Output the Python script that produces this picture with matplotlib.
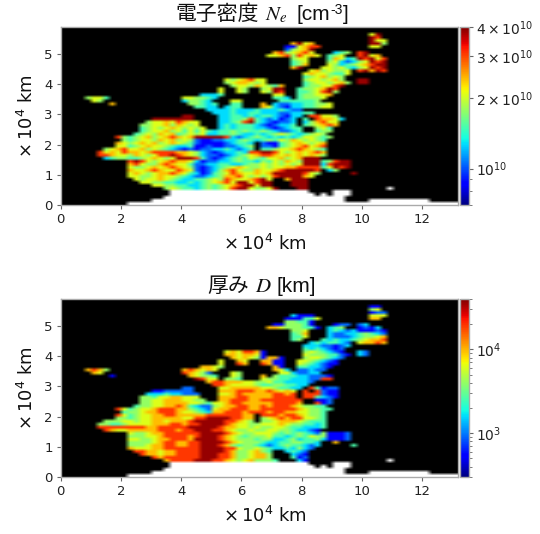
import numpy as np
import matplotlib
matplotlib.use("Agg")
import matplotlib.pyplot as plt
from matplotlib.colors import LogNorm
from matplotlib.ticker import NullFormatter

# Rows run top to bottom, 0.1 x 10^4 km each; columns 0.2 x 10^4 km each.
# "col:codes" - digit = colour level, "_" = no-data white.
NE_ROWS = [
 "", "",
 "51:69", "51:98", "51:966", "38:7967 51:995", "37:116788 51:66", "37:25679",
 "35:7856786 45:345 49:89", "34:667858676 44:456 49:8967", "38:566 44:47634 49:98968",
 "38:456 44:5632356989", "38:457 44:6534567899", "38:79 43:66564356989", "41:6756556 49:89798",
 "40:67665446", "40:4567565", "27:6567866 40:5665675 49:99", "27:5677656 40:45665675 49:99",
 "28:566576 34:547 40:4556689", "26:6 29:65 33:5 34:699 39:4556798", "26:6 29:65 33:65 35:98 39:4456895",
 "23:3334 35:66 39:455667", "4:5664 20:665543 35:443 39:45556",
 "5:65 20:35543 28:66 36:444 39:4445", "8:7 21:55434 28:44 33:7 35:3223344556",
 "22:4433 27:344 33:76 35:3213344566", "24:3333433343334322", "25:33343344333223344",
 "20:99 26:33443434432133 41:88665", "15:9999999 26:3344584323123 40:4 42:87763",
 "14:566768766 26:3345894321223 40:35 42:7866", "13:5566757656 26:3434443212334 40:456787",
 "13:45656765656 26:34344433212344 42:564", "13:456675646464 25:344545445432234 42:455",
 "12:" "456576745656" "33445433434565434565",
 "9:8 10:5 11:" "45675678767" "99999" "832345434343466545",
 "10:" "545665767565" "211223" "3454345465765654",
 "9:" "7656767567654" "211112" "3443" " 33:" "21145676567",
 "9:" "6645676654334" "112112" "2345" " 33:" "22145678678",
 "7:" "567866756543212" "122334" "3234" " 33:" "44566787654",
 "6:" "867687767" "88887765" "32123343" "88998" "65676787",
 "6:" "887665765" "68898765" "32212345" "67887" "67676765",
 "7:" "34554456" "76569998" "42123454" "65466" "7567" "999",
 "11:" "89865678776" "312233454" "435465765" "999" " 43:45899",
 "11:" "78655787664" "223344334" "556565656" "99938999",
 "11:" "65567678765" "212345676" "556566778" "88846989",
 "11:" "76678766876" "212357865" "576678999" "998" " 44:35",
 "11:" "67656778764" "312456876" "676799999" "865" " 48:9",
 "11:" "66556766543" "223457786" "565689999" "76",
 "12:" "65667654334" "456587667896" " 37:7999",
 "13:" "6655443343" "456786996899" " 38:999",
 "15:" "66554433" "454567899699" " 38:999",
 "17:" "565443" "45456899655" " 34:69 39:99 54:_",
 "18:_______________________ 45:___",
 "18:________________________ 43:_ 45:___",
 "17:______________________________",
 "15:________________________________ 51:__________",
 "11:_______________________________________________________",
]

D_ROWS = [
 "", "",
 "51:11", "51:56", "51:122", "38:3111 51:666", "37:111446 51:77", "37:55441",
 "35:1155541 45:122 49:23", "34:776555441 44:345 49:1213", "38:556 44:34323 49:11121",
 "38:457 44:3223345432", "38:446 44:3222345567", "38:45 43:43433456778", "41:3434432 49:67787",
 "40:33322123", "40:4343212", "27:6768871 40:5654321 49:32", "27:7767761 40:65554421 49:32",
 "28:767651 34:771 40:5665432", "26:6 29:76 33:7 34:711 39:6654321", "26:6 29:87 33:87 35:11 39:6543211",
 "23:7765 35:71 39:443321", "4:7875 20:787676 35:763 39:22322",
 "5:76 20:87652 28:65 36:663 39:2233", "8:1 21:76554 28:65 33:7 35:5444332221",
 "22:9866 27:554 33:65 35:5443332288", "24:788777665564433332", "25:8876666544554433",
 "20:22 26:66777776654433 41:84122", "15:1122222 26:7778887787676 40:8 42:8211",
 "14:333433222 26:6678777778878 40:88 42:8211", "13:5546677666 26:7778877778888 40:884321",
 "13:55667776655 26:77888778888888 42:112", "13:556677776654 25:667887777788887 42:812",
 "12:" "455667787" "4322" "5677887787888765544",
 "9:8 10:6 11:" "4566788877" "5432" "67788877888888765544",
 "10:" "45567788876" "6543" "7788878887887766554",
 "9:" "8645667788777" "7788" "888877" " 33:" "88878876554",
 "9:" "5545667777766" "8899" "998877" " 33:" "56787886654",
 "7:" "55566" "5667767778" "9999" "988765" " 33:" "55677765444",
 "6:" "554456666" "77788788" "99998766" "55666" "76554434",
 "6:" "888888887" "78888899" "99987766" "56556" "65443334",
 "7:" "87667777" "78887889" "99887655" "65566" "5543" "321",
 "11:" "65567788888" "899998765" "566654545" "432" " 43:51112",
 "11:" "55566788887" "899987654" "555644345" "46551112",
 "11:" "66556778887" "999987655" "545533453" "44531112",
 "11:" "55556788778" "899998765" "554334455" "443" " 45:7",
 "11:" "55567788778" "899987545" "543234544" "323" " 48:4",
 "11:" "76667788888" "899998865" "565433435" "32",
 "12:" "88776778888" "999987556" "754" " 37:3432",
 "13:" "8776778888" "999887556" "775" " 38:321",
 "15:" "87888888" "999887556" "775" " 38:412",
 "17:" "78888" "9998876" "56755" " 34:54 39:31 54:_",
 "18:_______________________ 45:___",
 "18:________________________ 43:_ 45:___",
 "17:______________________________",
 "15:________________________________ 51:__________",
 "11:_______________________________________________________",
]

LEVEL_FRACTIONS = [0.03, 0.12, 0.23, 0.34, 0.44, 0.53, 0.62, 0.71, 0.85, 0.98]
NE_LIMITS = [7e9, 4e10]
D_LIMITS = [300, 4e4]
NE_TICKS = [1e10, 2e10, 3e10, 4e10]
NE_TICK_LABELS = [r"$10^{10}$", r"$2\times10^{10}$", r"$3\times10^{10}$", r"$4\times10^{10}$"]
D_TICKS = [1e3, 1e4]
D_TICK_LABELS = [r"$10^{3}$", r"$10^{4}$"]
X_TICKS = [0, 2, 4, 6, 8, 10, 12]
Y_TICKS = [0, 1, 2, 3, 4, 5]
NCOL, NROW = 66, 59
XMAX, YMAX = 13.18, 5.9


def decode(rows, limits):
    grid = np.full((NROW, NCOL), np.nan)
    lo, hi = limits
    for r, row in enumerate(rows[:NROW]):
        for seg in row.split():
            start, codes = seg.split(":")
            for j, c in enumerate(codes):
                col = int(start) + j
                if col >= NCOL:
                    continue
                if c == "_":
                    grid[r, col] = hi * 100
                else:
                    grid[r, col] = lo * (hi / lo) ** LEVEL_FRACTIONS[int(c)]
    return grid


W, H = 540, 534
fig = plt.figure(figsize=(W / 100, H / 100), dpi=100)
cmap = plt.get_cmap("jet").copy()
cmap.set_bad("black")
cmap.set_over("white")
plt.rcParams["font.family"] = ["DejaVu Sans"]


def put(x, y, s, size=15, **kw):
    fig.text(x / W, 1 - y / H, s, fontsize=size, va="baseline", ha="left", color="#111111", **kw)


def panel(top, rows, limits, ticks, tick_labels):
    ax = fig.add_axes([60.5 / W, 1 - (top + 178) / H, 397.5 / W, 178 / H])
    im = ax.imshow(decode(rows, limits), cmap=cmap, norm=LogNorm(*limits), aspect="auto",
                   extent=[0, NCOL * 0.2, 0, YMAX], interpolation="bilinear",
                   interpolation_stage="rgba", origin="upper")
    ax.set_xlim(0, XMAX)
    ax.set_ylim(0, YMAX)
    ax.set_facecolor("black")
    ax.set_xticks(X_TICKS)
    ax.set_yticks(Y_TICKS)
    ax.tick_params(labelsize=9.5, length=3, width=0.8, color="#666666", labelcolor="#222222", pad=2.5)
    for s in ax.spines.values():
        s.set_color("#aaaaaa")
        s.set_linewidth(1.0)
    ax.set_xlabel(r"$\times\,10^4$ km", fontsize=13, labelpad=6, color="#111111")
    ax.xaxis.label.set_x(0.513)
    ax.set_ylabel(r"$\times\,10^4$ km", fontsize=13, labelpad=5, color="#111111")

    cax = fig.add_axes([460.3 / W, 1 - (top + 178) / H, 8.7 / W, 178 / H])
    cb = fig.colorbar(im, cax=cax, extend="neither")
    cb.set_ticks(ticks, labels=tick_labels)
    cax.yaxis.set_minor_formatter(NullFormatter())
    cax.tick_params(which="major", labelsize=10, length=3, width=0.8, color="#666666", pad=2,
                    labelcolor="#222222")
    cax.tick_params(which="minor", length=2, width=0.6, color="#666666")
    cb.outline.set_edgecolor("#aaaaaa")
    cb.outline.set_linewidth(1.0)


panel(27, NE_ROWS, NE_LIMITS, NE_TICKS, NE_TICK_LABELS)
panel(299, D_ROWS, D_LIMITS, D_TICKS, D_TICK_LABELS)

CJK = "Noto Sans CJK JP"
LAT = "Liberation Sans"
put(175, 20, "電子密度", family=CJK)
put(265, 20, r"$N_e$", math_fontfamily="stix")
put(297, 20, "[cm", family=LAT)
put(330.5, 14, "-3", size=10, family=LAT)
put(342.5, 20, "]", family=LAT)
put(207, 292.5, "厚み", family=CJK)
put(255, 292.5, r"$D$", math_fontfamily="stix")
put(277, 292.5, "[km]", family=LAT)

fig.savefig("out.png", dpi=100)
